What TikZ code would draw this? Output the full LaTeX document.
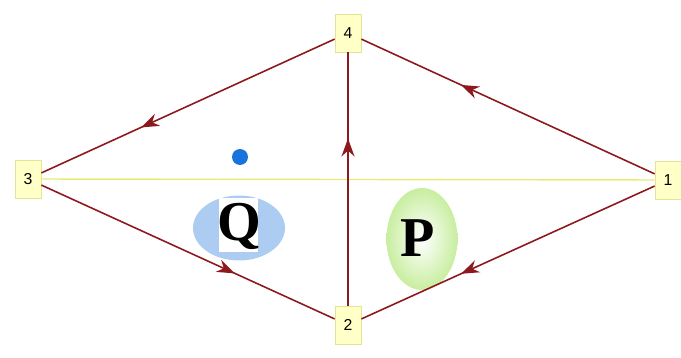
\documentclass[tikz,border=0pt]{standalone}
\usepackage{fontspec}
\setmainfont{Liberation Serif}
\setsansfont{Liberation Sans}
\usetikzlibrary{arrows.meta, decorations.markings, shapes.geometric}

\definecolor{edgered}{RGB}{140,25,30}
\definecolor{boxfill}{RGB}{255,255,200}
\definecolor{boxline}{RGB}{228,228,150}
\definecolor{dotblue}{RGB}{25,115,220}
\definecolor{qblue}{RGB}{172,204,242}
\definecolor{pgreen}{RGB}{200,238,160}

\tikzset{
  vbox/.style={draw=boxline, fill=boxfill, minimum width=0.52cm, minimum height=0.76cm,
    inner sep=0pt, font=\sffamily\small},
  edge/.style={draw=edgered, line width=0.9pt, postaction={decorate},
    decoration={markings, mark=at position 0.66 with {\arrow{Stealth[length=3.6mm,width=2.6mm]}}}},
}

\begin{document}
\begin{tikzpicture}[x=0.02cm, y=-0.02cm]
\useasboundingbox (0,0) rectangle (681,358);

% Ellipses
\node[ellipse, fill=qblue, minimum width=1.84cm, minimum height=1.3cm] (qell) at (239,228) {};
\fill[white] (219,198) rectangle (258,252);
\node[font=\bfseries\fontsize{32}{32}\selectfont] (qlab) at (239,226) {Q};
\node[ellipse, inner color=white, outer color=pgreen, minimum width=1.42cm, minimum height=2.04cm] (pell) at (422,239) {};
\node[font=\bfseries\fontsize{32}{32}\selectfont] (plab) at (418,238) {P};

% Blue dot
\node[circle, fill=dotblue, inner sep=0pt, minimum size=0.32cm] (dot) at (240,157) {};

% Vertices
\node[vbox] (n4) at (348,33) {4};
\node[vbox] (n3) at (28,179) {3};
\node[vbox] (n1) at (668,180) {1};
\node[vbox] (n2) at (348,325) {2};

% Diagonal 3--1
\draw[boxline!80!yellow, line width=0.8pt] (n3) -- (n1);

% Directed edges
\draw[edge] (n1) -- (n4);
\draw[edge] (n4) -- (n3);
\draw[edge] (n3) -- (n2);
\draw[edge] (n2) -- (n4);
\draw[edge] (n1) -- (n2);

\end{tikzpicture}
\end{document}
